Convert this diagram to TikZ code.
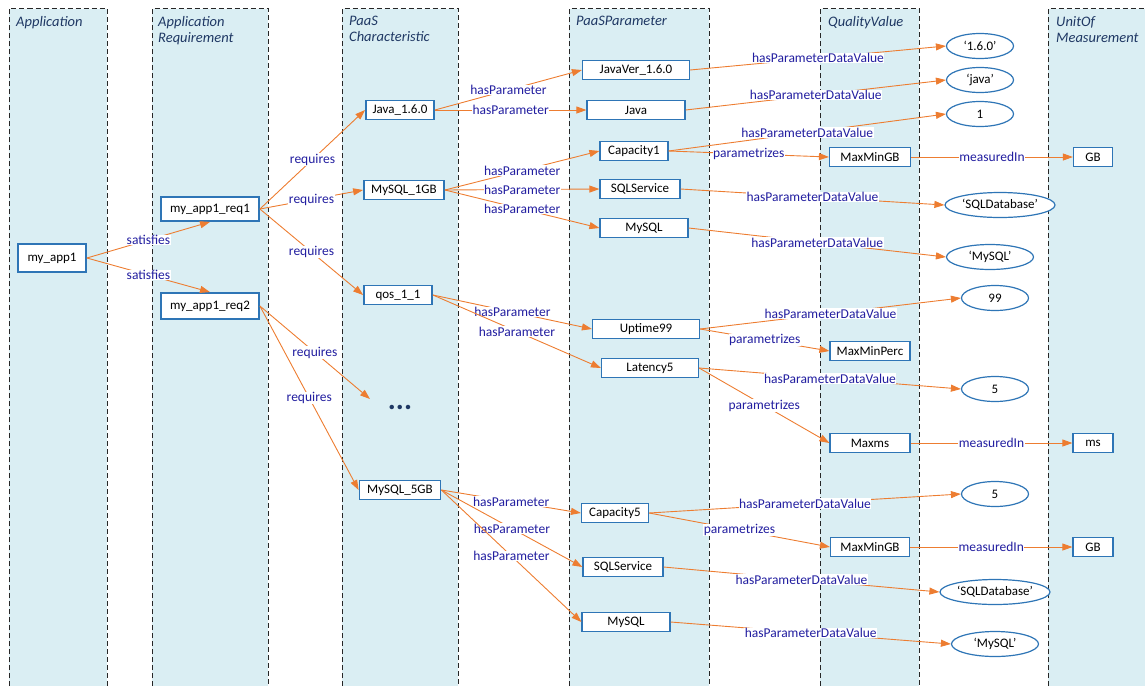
\documentclass[tikz,border=0pt]{standalone}
\usepackage{fontspec}
\setmainfont{Carlito}
\usetikzlibrary{arrows.meta}
\usetikzlibrary{shapes.geometric}
\definecolor{lanefill}{RGB}{218,238,243}
\definecolor{boxblue}{RGB}{46,117,182}
\definecolor{linkorange}{RGB}{237,125,49}
\definecolor{labelblue}{RGB}{34,30,160}
\definecolor{headblue}{RGB}{31,56,100}

\begin{document}
\begin{tikzpicture}[x=1pt, y=-1pt, font=\fontsize{13}{15}\selectfont,
    lanedash/.style={draw=black!85, line width=0.9pt, dash pattern=on 5pt off 3pt},
    head/.style={anchor=north west, align=left, inner sep=0pt, text=headblue, font=\fontsize{14.5}{16}\selectfont\itshape},
    entity/.style={draw=boxblue, line width=1.8pt, fill=white, inner sep=2pt, minimum height=#1},
    entity/.default=19pt,
    param/.style={draw=boxblue, line width=1.2pt, fill=white, inner sep=2pt, minimum height=19pt},
    value/.style={ellipse, draw=boxblue, line width=1.2pt, fill=white, inner sep=1pt, minimum height=25pt},
    link/.style={draw=linkorange, line width=0.9pt, -{Triangle[length=10pt, width=7pt]}},
    lbl/.style={midway, fill=white, text=labelblue, inner sep=0.5pt, font=\fontsize{13.5}{15}\selectfont}]
  \useasboundingbox (0,0) rectangle (1145,686);

  \foreach \l/\r in {9/107, 152/268, 342/458, 569/709, 820/919, 1048/1160} {
    \fill[lanefill] (\l,8.5) rectangle (\r,686);
    \draw[lanedash] (\l,686) -- (\l,8.5) -- (\r,8.5) -- (\r,686);
  }
  \node[head] (happ) at (16,16) {Application};
  \node[head] (hreq) at (158,16) {Application\\Requirement};
  \node[head] (hchar) at (349,16) {PaaS\\Characteristic};
  \node[head] (hparam) at (576,16) {PaaSParameter};
  \node[head] (hqual) at (828,16) {QualityValue};
  \node[head] (hunit) at (1056,16) {UnitOf\\Measurement};

  \node[entity=28pt, minimum width=68pt] (app) at (52,258) {my\_app1};
  \node[entity=24pt, minimum width=98pt] (req1) at (210,209) {my\_app1\_req1};
  \node[entity=26pt, minimum width=98pt] (req2) at (210,306) {my\_app1\_req2};

  \node[entity, minimum width=68pt] (java160) at (400,110) {Java\_1.6.0};
  \node[entity, minimum width=80pt] (mysql1gb) at (404,190) {MySQL\_1GB};
  \node[entity, minimum width=68pt] (qos11) at (398,295) {qos\_1\_1};
  \node[text=headblue, font=\fontsize{30}{30}\selectfont\bfseries, inner sep=0pt] (dots) at (400,407) {...};
  \node[entity, minimum width=81pt] (mysql5gb) at (400,490) {MySQL\_5GB};

  \node[param, minimum width=107pt] (javaver) at (636,70) {JavaVer\_1.6.0};
  \node[param, minimum width=98pt] (java) at (636,110) {Java};
  \node[param, minimum width=68pt] (cap1) at (634,151) {Capacity1};
  \node[param, minimum width=80pt] (sqlsvc) at (640,189) {SQLService};
  \node[param, minimum width=88pt] (mysql) at (644,228) {MySQL};
  \node[param, minimum width=107pt] (uptime) at (646,329) {Uptime99};
  \node[param, minimum width=97pt] (latency) at (650,368) {Latency5};
  \node[param, minimum width=67pt] (cap5) at (615,513) {Capacity5};
  \node[param, minimum width=80pt] (sqlsvcb) at (623,567) {SQLService};
  \node[param, minimum width=88pt] (mysqlb) at (626,622) {MySQL};

  \node[param, minimum width=81pt] (mmgb) at (870,157) {MaxMinGB};
  \node[param, minimum width=80pt] (mmperc) at (870,351) {MaxMinPerc};
  \node[param, minimum width=80pt] (maxms) at (870,443) {Maxms};
  \node[param, minimum width=79pt] (mmgbb) at (870,547) {MaxMinGB};

  \node[value, minimum width=67pt] (v160) at (980,46) {‘1.6.0’};
  \node[value, minimum width=67pt] (vjava) at (980,80) {‘java’};
  \node[value, minimum width=67pt] (vone) at (980,114) {1};
  \node[value, minimum width=107pt] (vsqldb) at (1000,205) {‘SQLDatabase’};
  \node[value, minimum width=87pt] (vmysql) at (990,257) {‘MySQL’};
  \node[value, minimum width=67pt] (v99) at (995,298) {99};
  \node[value, minimum width=67pt] (vfive) at (995,389) {5};
  \node[value, minimum width=67pt] (vfiveb) at (995,494) {5};
  \node[value, minimum width=103pt] (vsqldbb) at (995,592) {‘SQLDatabase’};
  \node[value, minimum width=87pt] (vmysqlb) at (995,644) {‘MySQL’};

  \node[param, minimum width=39pt] (gb) at (1093,157) {GB};
  \node[param, minimum width=40pt] (ms) at (1093,443) {ms};
  \node[param, minimum width=40pt] (gbb) at (1093,547) {GB};

  \draw[link] (app.east) -- node[lbl] {satisfies} (req1.south);
  \draw[link] (app.east) -- node[lbl] {satisfies} (req2.north);
  \draw[link] (req1.east) -- node[lbl] {requires} (java160.west);
  \draw[link] (req1.east) -- node[lbl] {requires} (mysql1gb.west);
  \draw[link] (req1.east) -- node[lbl] {requires} (qos11.west);
  \draw[link] (req2.east) -- node[lbl] {requires} ([shift={(-30,-8)}]dots.center);
  \draw[link] (req2.east) -- node[lbl] {requires} (mysql5gb.west);

  \draw[link] (java160.east) -- node[lbl] {hasParameter} (javaver.west);
  \draw[link] (java160.east) -- node[lbl] {hasParameter} (java.west);
  \draw[link] (mysql1gb.east) -- node[lbl] {hasParameter} (cap1.west);
  \draw[link] (mysql1gb.east) -- node[lbl] {hasParameter} (sqlsvc.west);
  \draw[link] (mysql1gb.east) -- node[lbl] {hasParameter} (mysql.west);
  \draw[link] (qos11.east) -- node[lbl] {hasParameter} (uptime.west);
  \draw[link] (qos11.east) -- node[lbl] {hasParameter} (latency.west);
  \draw[link] (mysql5gb.east) -- node[lbl] {hasParameter} (cap5.west);
  \draw[link] (mysql5gb.east) -- node[lbl] {hasParameter} (sqlsvcb.west);
  \draw[link] (mysql5gb.east) -- node[lbl] {hasParameter} (mysqlb.west);

  \draw[link] (javaver.east) -- node[lbl] {hasParameterDataValue} (v160.west);
  \draw[link] (java.east) -- node[lbl] {hasParameterDataValue} (vjava.west);
  \draw[link] (cap1.east) -- node[lbl] {hasParameterDataValue} (vone.west);
  \draw[link] (cap1.east) -- node[lbl] {parametrizes} (mmgb.west);
  \draw[link] (sqlsvc.east) -- node[lbl] {hasParameterDataValue} (vsqldb.west);
  \draw[link] (mysql.east) -- node[lbl] {hasParameterDataValue} (vmysql.west);
  \draw[link] (uptime.east) -- node[lbl] {hasParameterDataValue} (v99.west);
  \draw[link] (uptime.east) -- node[lbl] {parametrizes} (mmperc.west);
  \draw[link] (latency.east) -- node[lbl] {hasParameterDataValue} (vfive.west);
  \draw[link] (latency.east) -- node[lbl] {parametrizes} (maxms.west);
  \draw[link] (cap5.east) -- node[lbl] {hasParameterDataValue} (vfiveb.west);
  \draw[link] (cap5.east) -- node[lbl] {parametrizes} (mmgbb.west);
  \draw[link] (sqlsvcb.east) -- node[lbl] {hasParameterDataValue} (vsqldbb.west);
  \draw[link] (mysqlb.east) -- node[lbl] {hasParameterDataValue} (vmysqlb.west);

  \draw[link] (mmgb.east) -- node[lbl] {measuredIn} (gb.west);
  \draw[link] (maxms.east) -- node[lbl] {measuredIn} (ms.west);
  \draw[link] (mmgbb.east) -- node[lbl] {measuredIn} (gbb.west);
\end{tikzpicture}
\end{document}
